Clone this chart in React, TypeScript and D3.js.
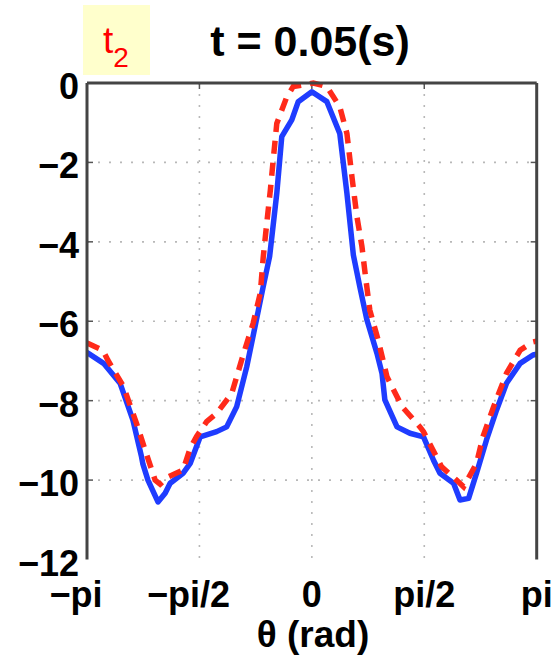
import React from "react";
import * as d3 from "d3";

// ---- data (theta in radians, value in dB-like units) ----
const blueTheta = [-3.14, -2.91, -2.68, -2.5, -2.38, -2.36, -2.29, -2.15, -2.05, -1.98, -1.8, -1.7, -1.56, -1.33, -1.19, -1.05, -0.91, -0.79, -0.68, -0.59, -0.49, -0.42, -0.28, -0.19, 0.0, 0.21, 0.39, 0.49, 0.58, 0.67, 0.77, 0.91, 0.98, 1.02, 1.19, 1.37, 1.56, 1.7, 1.79, 1.98, 2.07, 2.19, 2.3, 2.44, 2.58, 2.72, 2.91, 3.09, 3.14];
const blueValues = [-6.79, -7.06, -7.56, -8.49, -9.41, -9.6, -10.0, -10.55, -10.33, -10.08, -9.83, -9.58, -8.91, -8.78, -8.66, -8.15, -7.15, -6.1, -5.13, -4.37, -2.78, -1.35, -0.93, -0.47, -0.22, -0.47, -1.27, -2.78, -4.33, -5.13, -5.97, -6.81, -7.31, -7.98, -8.66, -8.82, -8.91, -9.5, -9.83, -10.08, -10.5, -10.46, -9.83, -8.99, -8.24, -7.56, -7.06, -6.85, -6.83];

const redTheta = [-3.14, -2.92, -2.85, -2.63, -2.45, -2.33, -2.19, -2.12, -2.01, -1.8, -1.7, -1.61, -1.47, -1.33, -1.12, -0.96, -0.82, -0.72, -0.68, -0.63, -0.58, -0.54, -0.49, -0.35, -0.26, 0.02, 0.21, 0.39, 0.49, 0.56, 0.63, 0.7, 0.75, 0.81, 0.93, 1.05, 1.26, 1.51, 1.56, 1.74, 1.81, 2.02, 2.12, 2.3, 2.39, 2.54, 2.72, 2.91, 3.09, 3.14];
const redValues = [-6.55, -6.73, -6.98, -7.65, -8.57, -9.24, -10.0, -10.1, -9.92, -9.75, -9.2, -8.9, -8.53, -8.32, -7.82, -6.85, -6.05, -5.29, -4.4, -3.53, -2.7, -1.94, -1.02, -0.35, -0.09, 0.0, -0.09, -0.6, -1.27, -2.36, -3.37, -4.12, -4.88, -5.72, -6.5, -7.4, -8.15, -8.66, -8.78, -9.41, -9.66, -10.0, -10.17, -9.58, -8.91, -8.15, -7.31, -6.73, -6.52, -6.5];

const xTickValues = [-Math.PI, -Math.PI / 2, 0, Math.PI / 2, Math.PI];
const xTickLabels = ["\u2212pi", "\u2212pi/2", "0", "pi/2", "pi"];
const yTickValues = [0, -2, -4, -6, -8, -10, -12];
const yTickLabels = ["0", "\u22122", "\u22124", "\u22126", "\u22128", "\u221210", "\u221212"];
const xGridValues = [-Math.PI / 2, 0, Math.PI / 2];
const yGridValues = [-2, -4, -6, -8, -10];

const titleText = "t = 0.05(s)";
const xLabelText = "\u03b8 (rad)";

const W = 551;
const H = 656;
const left = 87;
const right = 536.7;
const top = 83;
const bottom = 559.5;

const FONT = "'Liberation Sans', Arial, Helvetica, sans-serif";

export default function App() {
  const x = d3.scaleLinear().domain([-Math.PI, Math.PI]).range([left, right]);
  const y = d3.scaleLinear().domain([-12, 0]).range([bottom, top]);

  const line = d3
    .line<[number, number]>()
    .x((d) => x(d[0]))
    .y((d) => y(d[1]));

  const bluePts = blueTheta.map((t, i) => [t, blueValues[i]] as [number, number]);
  const redPts = redTheta.map((t, i) => [t, redValues[i]] as [number, number]);

  return (
    <svg
      width={W}
      height={H}
      style={{ position: "absolute", left: 0, top: 0, background: "#fff" }}
    >
      <rect x={0} y={0} width={W} height={H} fill="#fff" />
      <defs>
        <clipPath id="plotclip">
          <rect x={left} y={top - 4} width={right - left} height={bottom - top + 8} />
        </clipPath>
      </defs>

      {/* grid */}
      {xGridValues.map((v, i) => (
        <line
          key={"gx" + i}
          x1={x(v)}
          x2={x(v)}
          y1={top}
          y2={bottom}
          stroke="#b8b8b8"
          strokeWidth={1.6}
          strokeDasharray="2,9"
        />
      ))}
      {yGridValues.map((v, i) => (
        <line
          key={"gy" + i}
          x1={left}
          x2={right}
          y1={y(v)}
          y2={y(v)}
          stroke="#b8b8b8"
          strokeWidth={1.6}
          strokeDasharray="2,9"
        />
      ))}

      {/* inward ticks */}
      {yGridValues.map((v, i) => (
        <g key={"ty" + i}>
          <line x1={left} x2={left + 6} y1={y(v)} y2={y(v)} stroke="#555" strokeWidth={1.5} />
          <line x1={right} x2={right - 6} y1={y(v)} y2={y(v)} stroke="#555" strokeWidth={1.5} />
        </g>
      ))}
      {xGridValues.map((v, i) => (
        <line key={"tx" + i} x1={x(v)} x2={x(v)} y1={top} y2={top + 6} stroke="#555" strokeWidth={1.5} />
      ))}

      {/* curves */}
      <g clipPath="url(#plotclip)">
        <path d={line(bluePts) || ""} fill="none" stroke="#1f3cff" strokeWidth={5.5} strokeLinejoin="round" strokeLinecap="round" />
        <path d={line(redPts) || ""} fill="none" stroke="#ff2a1a" strokeWidth={5.5} strokeDasharray="13,9" />
      </g>

      {/* axes box (top, left, right) */}
      <line x1={left} x2={right} y1={top} y2={top} stroke="#444" strokeWidth={3} />
      <line x1={left} x2={left} y1={top} y2={bottom} stroke="#444" strokeWidth={3} />
      <line x1={right} x2={right} y1={top} y2={bottom} stroke="#444" strokeWidth={3} />

      {/* y tick labels */}
      {yTickValues.map((v, i) => (
        <text
          key={"yl" + i}
          x={79}
          y={y(v) + 16}
          textAnchor="end"
          fontFamily={FONT}
          fontWeight="bold"
          fontSize={36}
          fill="#000"
        >
          {yTickLabels[i]}
        </text>
      ))}

      {/* x tick labels */}
      {xTickValues.map((v, i) => (
        <text
          key={"xl" + i}
          x={x(v) + (v < 0 ? -11 : 0)}
          y={607}
          textAnchor="middle"
          fontFamily={FONT}
          fontWeight="bold"
          fontSize={36}
          fill="#000"
        >
          {xTickLabels[i]}
        </text>
      ))}

      {/* x axis label */}
      <text x={313} y={647} textAnchor="middle" fontFamily={FONT} fontWeight="bold" fontSize={37} fill="#000">
        {xLabelText}
      </text>

      {/* title */}
      <text x={310} y={56} textAnchor="middle" fontFamily={FONT} fontWeight="bold" fontSize={43} fill="#000">
        {titleText}
      </text>

      {/* t2 badge */}
      <rect x={83} y={5} width={67} height={70} fill="#ffffcc" />
      <text x={103} y={53} fontFamily={FONT} fontSize={37} fill="#ff0000">
        t
        <tspan fontSize={28} dy={14}>2</tspan>
      </text>
    </svg>
  );
}
